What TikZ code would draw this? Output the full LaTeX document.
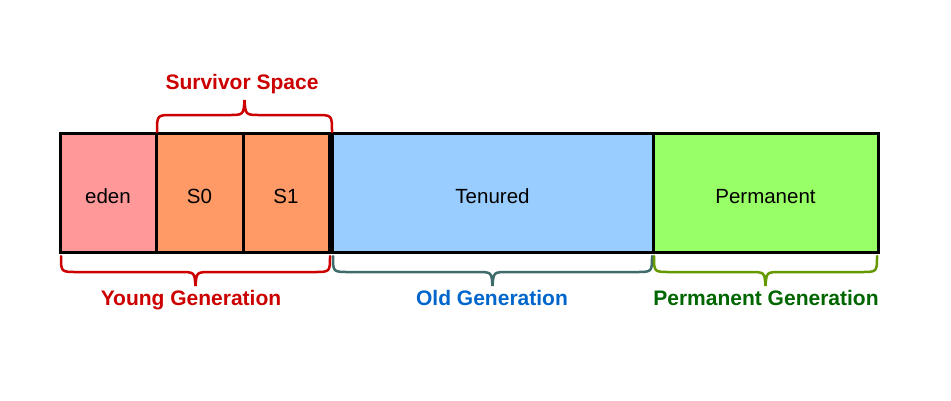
\documentclass[tikz,border=0pt]{standalone}
\usepackage{fontspec}
\setmainfont{Liberation Sans}
\definecolor{edenc}{HTML}{FF9999}
\definecolor{survc}{HTML}{FF9966}
\definecolor{tenc}{HTML}{99CCFF}
\definecolor{permc}{HTML}{99FF66}
\definecolor{youngc}{HTML}{CC0000}
\definecolor{oldbr}{HTML}{3F6B6B}
\definecolor{oldtx}{HTML}{0066CC}
\definecolor{permbr}{HTML}{669900}
\definecolor{permtx}{HTML}{006600}
\newcommand{\BraceDown}[4]{% xa xb yt color
  \draw[#4, line width=2.5pt, line cap=round]
    (#1,#3) .. controls (#1,#3+16) .. (#1+16,#3+16)
    -- ({(#1+#2)/2-16},#3+16) .. controls ({(#1+#2)/2-1},#3+16) .. ({(#1+#2)/2},#3+30)
    .. controls ({(#1+#2)/2+1},#3+16) .. ({(#1+#2)/2+16},#3+16)
    -- (#2-16,#3+16) .. controls (#2,#3+16) .. (#2,#3);}
\newcommand{\BraceUp}[4]{% xa xb yb color
  \draw[#4, line width=2.5pt, line cap=round]
    (#1,#3) .. controls (#1,#3-17) .. (#1+16,#3-17)
    -- ({(#1+#2)/2-16},#3-17) .. controls ({(#1+#2)/2-1},#3-17) .. ({(#1+#2)/2},#3-32)
    .. controls ({(#1+#2)/2+1},#3-17) .. ({(#1+#2)/2+16},#3-17)
    -- (#2-16,#3-17) .. controls (#2,#3-17) .. (#2,#3);}
\tikzset{
  box/.style={draw=black, line width=3pt, minimum height=119pt, inner sep=0pt,
    text height=21pt, text depth=0pt,
    font=\fontsize{20.5}{24}\selectfont, text=black},
  lbl/.style={font=\fontsize{21}{25}\selectfont\bfseries, inner sep=0pt, anchor=base}
}
\begin{document}
\begin{tikzpicture}[x=1pt,y=-1pt]
\useasboundingbox[fill=white] (0,0) rectangle (951,400);
\node[box, fill=edenc, minimum width=96pt] (eden) at (108,192.5) {eden};
\node[box, fill=survc, minimum width=87pt] (s0) at (199.5,192.5) {S0};
\node[box, fill=survc, minimum width=86pt] (s1) at (286,192.5) {S1};
\node[box, fill=tenc, minimum width=321pt] (ten) at (492.5,192.5) {Tenured};
\node[box, fill=permc, minimum width=225pt] (perm) at (765.5,192.5) {Permanent};
\BraceUp{157}{332}{132}{youngc}
\BraceDown{61}{330}{256}{youngc}
\BraceDown{333}{652}{256}{oldbr}
\BraceDown{654}{877}{256}{permbr}
\node[lbl, text=youngc] (surv) at (242,89) {Survivor Space};
\node[lbl, text=youngc] (young) at (191,305) {Young Generation};
\node[lbl, text=oldtx] (old) at (492,305) {Old Generation};
\node[lbl, text=permtx] (permg) at (766,305) {Permanent Generation};
\end{tikzpicture}
\end{document}
